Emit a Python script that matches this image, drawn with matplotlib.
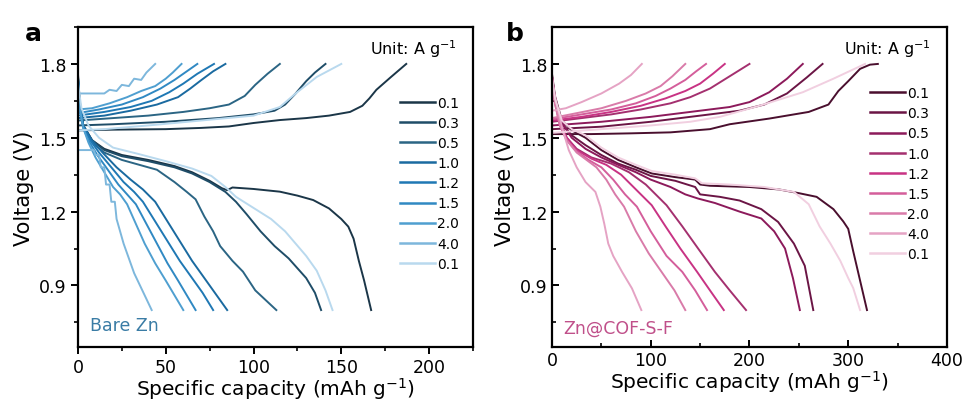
import matplotlib
matplotlib.use('Agg')
import matplotlib.pyplot as plt
from matplotlib.ticker import MultipleLocator
from matplotlib.lines import Line2D

plt.rcParams['font.family'] = ['DejaVu Sans']
plt.rcParams['mathtext.fontset'] = 'dejavusans'

rates = ['0.1', '0.3', '0.5', '1.0', '1.2', '1.5', '2.0', '4.0', '0.1']

# ---------------- Panel a: Bare Zn ----------------
a_colors = ['#1b3648', '#1f4d68', '#2b6584', '#1a6aa0', '#1f78b4',
            '#3089c3', '#4f9fd0', '#7db7dc', '#b9d9ee']

# discharge curves (capacity mAh/g, voltage V)
a_dis_cap = [
    [0, 1, 3, 8, 15, 25, 40, 55, 65, 75, 82, 85, 88, 100, 115, 125, 134, 143, 150, 154, 157, 160, 163, 167],
    [0, 1, 3, 8, 15, 25, 40, 55, 65, 75, 84, 90, 96, 104, 112, 120, 130, 135, 138.5],
    [0, 1, 3, 8, 15, 25, 35, 45, 55, 62, 67, 72, 77, 81, 88, 94, 101, 107, 113],
    [0, 1, 3, 8, 14, 22, 30, 37, 44, 51, 58, 65, 72, 78, 85],
    [0, 1, 3, 7, 12, 19, 26, 32, 37, 44, 51, 58, 65, 71, 77],
    [0, 1, 3, 6, 11, 17, 23, 28, 33, 39, 45, 51, 57, 62, 67],
    [0, 1, 3, 6, 10, 15, 20, 24, 28, 33, 38, 44, 50, 55, 60],
    [0, 0, 9, 10, 12, 13, 15, 16, 18, 19, 21, 22, 24, 26, 28, 30, 32, 34, 36, 38, 40, 42],
    [0, 2, 6, 12, 20, 34, 50, 65, 76, 84, 90, 100, 110, 118, 124, 130, 136, 141, 145],
]
a_dis_v = [
    [1.76, 1.65, 1.55, 1.49, 1.455, 1.43, 1.41, 1.385, 1.36, 1.325, 1.295, 1.287, 1.298, 1.292, 1.281, 1.265, 1.247, 1.213, 1.17, 1.139, 1.09, 1.00, 0.92, 0.80],
    [1.75, 1.64, 1.55, 1.49, 1.45, 1.425, 1.405, 1.38, 1.355, 1.32, 1.28, 1.24, 1.19, 1.12, 1.06, 1.01, 0.93, 0.87, 0.80],
    [1.74, 1.63, 1.55, 1.48, 1.44, 1.41, 1.39, 1.37, 1.32, 1.28, 1.25, 1.18, 1.12, 1.06, 1.00, 0.956, 0.88, 0.84, 0.80],
    [1.75, 1.63, 1.55, 1.49, 1.44, 1.38, 1.33, 1.29, 1.24, 1.16, 1.08, 1.00, 0.93, 0.87, 0.80],
    [1.74, 1.62, 1.55, 1.49, 1.44, 1.38, 1.32, 1.28, 1.24, 1.16, 1.08, 1.00, 0.93, 0.87, 0.80],
    [1.74, 1.62, 1.54, 1.49, 1.43, 1.37, 1.31, 1.27, 1.23, 1.15, 1.07, 0.99, 0.92, 0.86, 0.80],
    [1.74, 1.62, 1.54, 1.48, 1.42, 1.36, 1.30, 1.27, 1.23, 1.15, 1.07, 0.99, 0.92, 0.86, 0.80],
    [1.60, 1.45, 1.45, 1.43, 1.43, 1.38, 1.38, 1.31, 1.31, 1.24, 1.24, 1.17, 1.12, 1.07, 1.03, 0.99, 0.95, 0.92, 0.89, 0.86, 0.83, 0.80],
    [1.72, 1.62, 1.55, 1.50, 1.46, 1.435, 1.405, 1.375, 1.345, 1.30, 1.26, 1.215, 1.17, 1.12, 1.07, 1.02, 0.96, 0.88, 0.80],
]
# charge curves
a_chg_cap = [
    [0, 20, 50, 70, 86, 100, 115, 130, 143, 155, 162, 166, 170, 178, 187],
    [0, 20, 50, 80, 100, 112, 118, 124, 130, 135, 141],
    [0, 20, 40, 60, 75, 86, 95, 101, 108, 115],
    [0, 15, 30, 45, 57, 64, 70, 77, 84],
    [0, 15, 30, 42, 52, 60, 68, 77.5],
    [0, 12, 25, 37, 47, 55, 62, 68],
    [0, 8, 18, 28, 36, 44, 50, 54, 59],
    [0, 15, 18, 22, 25, 29, 32, 36, 39, 44],
    [0, 15, 40, 70, 100, 115, 124, 136, 150],
]
a_chg_v = [
    [1.53, 1.533, 1.535, 1.54, 1.546, 1.56, 1.572, 1.58, 1.59, 1.605, 1.63, 1.66, 1.695, 1.745, 1.80],
    [1.55, 1.555, 1.565, 1.58, 1.595, 1.61, 1.635, 1.68, 1.73, 1.765, 1.80],
    [1.57, 1.58, 1.59, 1.605, 1.62, 1.635, 1.67, 1.715, 1.76, 1.80],
    [1.58, 1.59, 1.61, 1.635, 1.665, 1.70, 1.733, 1.77, 1.80],
    [1.59, 1.605, 1.625, 1.65, 1.685, 1.72, 1.76, 1.80],
    [1.60, 1.615, 1.635, 1.665, 1.70, 1.735, 1.77, 1.80],
    [1.615, 1.62, 1.64, 1.665, 1.69, 1.71, 1.74, 1.765, 1.80],
    [1.68, 1.68, 1.695, 1.69, 1.715, 1.71, 1.74, 1.735, 1.765, 1.80],
    [1.53, 1.535, 1.55, 1.57, 1.59, 1.625, 1.68, 1.747, 1.80],
]

# ---------------- Panel b: Zn@COF-S-F ----------------
b_colors = ['#4a0f2e', '#6b1545', '#8c1a5b', '#a4306f', '#c83384',
            '#d45e9b', '#d97ba9', '#e5a3c4', '#f1cfe0']

b_dis_cap = [
    [0, 3, 10, 20, 34, 50, 67, 85, 101, 125, 145, 150, 160, 200, 230, 250, 268, 285, 295, 300, 305, 312, 319],
    [0, 3, 10, 20, 34, 50, 67, 85, 100, 125, 145, 150, 170, 190, 212, 229, 245, 256, 264.6],
    [0, 3, 10, 20, 34, 50, 67, 85, 100, 120, 135, 148, 165, 190, 212, 225, 236, 244, 251],
    [0, 3, 8, 15, 25, 40, 60, 78, 95, 116, 132, 148, 165, 180, 196.5],
    [0, 3, 8, 15, 25, 40, 55, 70, 85, 101, 115, 130, 147, 160, 174],
    [0, 3, 8, 15, 25, 37, 50, 62, 74, 86, 100, 116, 132, 145, 157],
    [0, 3, 8, 15, 25, 35, 45, 55, 64, 73, 85, 98, 111, 124, 135],
    [0, 4, 10, 17, 25, 34, 44, 49, 53, 57, 62, 71, 81, 90.5],
    [0, 3, 10, 20, 34, 50, 67, 85, 101, 125, 145, 152, 180, 215, 245, 260, 271, 282, 292, 300, 305, 312],
]
b_dis_v = [
    [1.76, 1.67, 1.57, 1.53, 1.50, 1.45, 1.41, 1.38, 1.355, 1.34, 1.33, 1.31, 1.305, 1.30, 1.29, 1.275, 1.26, 1.21, 1.16, 1.13, 1.04, 0.92, 0.80],
    [1.75, 1.66, 1.56, 1.51, 1.47, 1.43, 1.395, 1.37, 1.345, 1.325, 1.30, 1.27, 1.26, 1.245, 1.21, 1.158, 1.07, 0.98, 0.80],
    [1.75, 1.66, 1.56, 1.50, 1.455, 1.42, 1.39, 1.36, 1.33, 1.30, 1.27, 1.253, 1.235, 1.20, 1.172, 1.12, 1.05, 0.93, 0.80],
    [1.75, 1.65, 1.56, 1.50, 1.455, 1.42, 1.395, 1.36, 1.31, 1.226, 1.14, 1.05, 0.955, 0.88, 0.80],
    [1.75, 1.65, 1.56, 1.50, 1.45, 1.415, 1.39, 1.35, 1.29, 1.226, 1.14, 1.05, 0.955, 0.88, 0.80],
    [1.74, 1.64, 1.55, 1.49, 1.445, 1.41, 1.38, 1.33, 1.27, 1.22, 1.12, 1.02, 0.955, 0.88, 0.80],
    [1.74, 1.64, 1.55, 1.49, 1.44, 1.41, 1.38, 1.33, 1.27, 1.22, 1.12, 1.03, 0.955, 0.88, 0.80],
    [1.73, 1.65, 1.545, 1.45, 1.38, 1.32, 1.28, 1.22, 1.15, 1.07, 1.02, 0.955, 0.888, 0.80],
    [1.75, 1.66, 1.57, 1.535, 1.51, 1.46, 1.42, 1.39, 1.365, 1.35, 1.335, 1.315, 1.31, 1.30, 1.28, 1.23, 1.14, 1.07, 1.00, 0.93, 0.89, 0.80],
]
b_chg_cap = [
    [0, 40, 80, 120, 160, 180, 220, 260, 280, 290, 300, 312, 322, 330],
    [0, 50, 100, 150, 190, 215, 238, 258, 274],
    [0, 50, 100, 150, 180, 200, 220, 238, 254],
    [0, 30, 60, 90, 120, 140, 160, 180, 200],
    [0, 30, 60, 90, 115, 135, 150, 163, 175],
    [0, 30, 60, 85, 105, 120, 135, 146, 156],
    [0, 25, 50, 75, 95, 110, 122, 135],
    [0, 14, 30, 50, 68, 80, 91],
    [0, 50, 100, 140, 170, 210, 254, 285, 317],
]
b_chg_v = [
    [1.515, 1.515, 1.518, 1.522, 1.535, 1.555, 1.578, 1.605, 1.635, 1.69, 1.73, 1.78, 1.797, 1.80],
    [1.535, 1.545, 1.565, 1.59, 1.61, 1.635, 1.68, 1.745, 1.80],
    [1.55, 1.565, 1.585, 1.61, 1.625, 1.645, 1.685, 1.74, 1.80],
    [1.565, 1.58, 1.595, 1.615, 1.64, 1.665, 1.70, 1.75, 1.80],
    [1.57, 1.585, 1.605, 1.63, 1.66, 1.69, 1.72, 1.76, 1.80],
    [1.575, 1.595, 1.615, 1.64, 1.67, 1.70, 1.735, 1.77, 1.80],
    [1.58, 1.60, 1.62, 1.65, 1.68, 1.71, 1.75, 1.80],
    [1.61, 1.62, 1.645, 1.68, 1.72, 1.755, 1.80],
    [1.52, 1.535, 1.55, 1.565, 1.585, 1.63, 1.685, 1.74, 1.80],
]

fig = plt.figure(figsize=(9.66, 4.06), dpi=100)
axa = fig.add_axes([0.0807, 0.1429, 0.4089, 0.7881])
axb = fig.add_axes([0.5714, 0.1429, 0.4089, 0.7881])


def draw(ax, colors, dcap, dv, ccap, cv, xmax, xmaj, tickdir, legy, legx):
    handles = []
    for i in range(len(rates)):
        ax.plot(dcap[i], dv[i], color=colors[i], lw=1.4, solid_joinstyle='round')
        ax.plot(ccap[i], cv[i], color=colors[i], lw=1.4, solid_joinstyle='round')
        handles.append(Line2D([], [], color=colors[i], lw=1.8))
    ax.set_xlim(0, xmax)
    ax.set_ylim(0.65, 1.95)
    ax.xaxis.set_major_locator(MultipleLocator(xmaj))
    ax.xaxis.set_minor_locator(MultipleLocator(xmaj / 2))
    ax.yaxis.set_major_locator(MultipleLocator(0.3))
    ax.yaxis.set_minor_locator(MultipleLocator(0.15))
    ax.set_yticks([0.9, 1.2, 1.5, 1.8])
    for s in ax.spines.values():
        s.set_linewidth(1.6)
    ax.tick_params(which='major', direction=tickdir, length=5, width=1.4,
                   labelsize=12.5, pad=3)
    ax.tick_params(which='minor', direction=tickdir, length=3, width=1.2)
    ax.set_xlabel('Specific capacity (mAh g$^{-1}$)', fontsize=14.5, labelpad=-1)
    ax.set_ylabel('Voltage (V)', fontsize=15, labelpad=4)
    ax.text(0.96, 0.935, 'Unit: A g$^{-1}$', transform=ax.transAxes,
            ha='right', va='center', fontsize=11.5)
    ax.legend(handles, rates, loc='upper left', bbox_to_anchor=(legx, legy),
              frameon=False, fontsize=10, handlelength=2.5, handletextpad=0.2,
              labelspacing=0.44, borderpad=0, borderaxespad=0)


draw(axa, a_colors, a_dis_cap, a_dis_v, a_chg_cap, a_chg_v, 225, 50, 'out', 0.785, 0.815)
draw(axb, b_colors, b_dis_cap, b_dis_v, b_chg_cap, b_chg_v, 400, 100, 'in', 0.815, 0.805)

axa.text(0.03, 0.069, 'Bare Zn', transform=axa.transAxes, fontsize=12.5,
         color='#3a7ca5', va='center')
axb.text(0.028, 0.06, 'Zn@COF-S-F', transform=axb.transAxes, fontsize=12.5,
         color='#c0508a', va='center')

fig.text(0.026, 0.90, 'a', fontsize=18, fontweight='bold')
fig.text(0.524, 0.90, 'b', fontsize=18, fontweight='bold')

fig.savefig('out.png', dpi=100)
